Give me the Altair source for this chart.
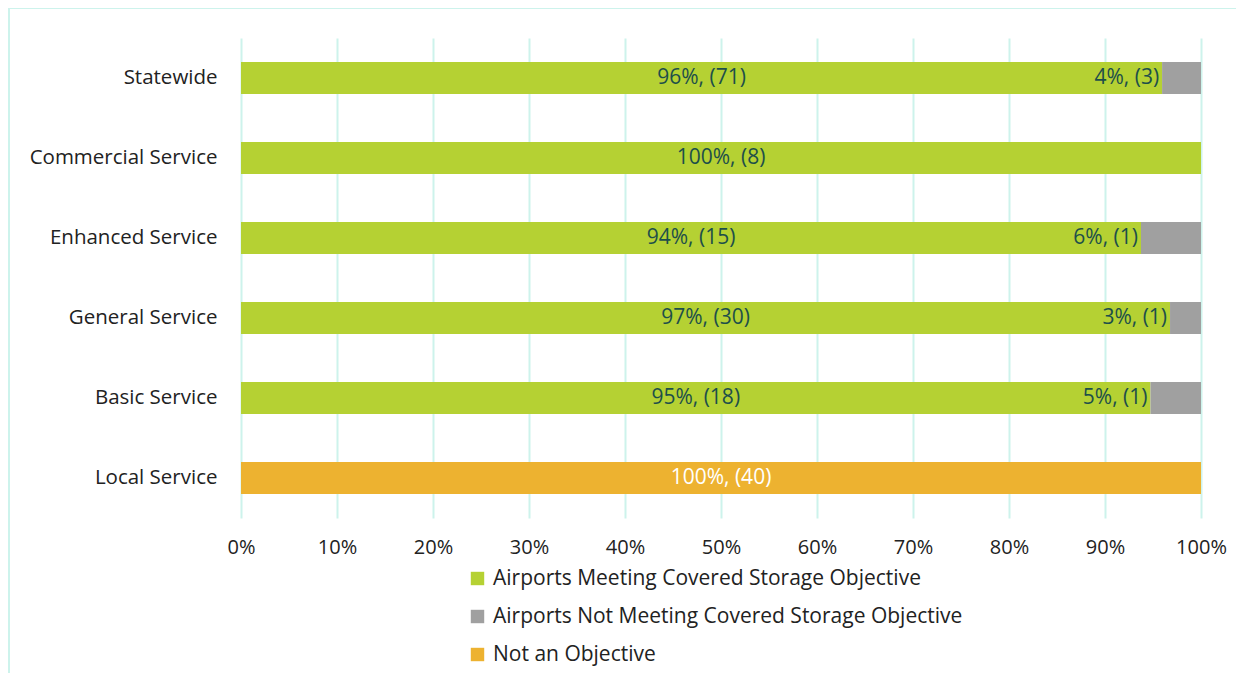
import altair as alt
import pandas as pd

categories = ["Statewide", "Commercial Service", "Enhanced Service", "General Service", "Basic Service", "Local Service"]
series = ["Airports Meeting Covered Storage Objective",
          "Airports Not Meeting Covered Storage Objective",
          "Not an Objective"]
meeting = [71, 8, 15, 30, 18, 0]
not_meeting = [3, 0, 1, 1, 1, 0]
not_objective = [0, 0, 0, 0, 0, 40]
colors = ["#B5D133", "#A0A0A0", "#EDB230"]
x_ticks = [0, 0.1, 0.2, 0.3, 0.4, 0.5, 0.6, 0.7, 0.8, 0.9, 1.0]

FONT = "Open Sans"
GRID = "#CDF3EC"
TXT = "#222222"
LAB = "#1D4F4A"

rows = []
for i, c in enumerate(categories):
    vals = [meeting[i], not_meeting[i], not_objective[i]]
    total = sum(vals)
    for j, s in enumerate(series):
        v = vals[j]
        rows.append({"category": c, "series": s, "order": j, "count": v,
                     "label": f"{round(100 * v / total)}%, ({v})" if v > 0 else ""})
df = pd.DataFrame(rows)

base = alt.Chart(df).transform_stack(
    stack="count", groupby=["category"], as_=["x0", "x1"], offset="normalize",
    sort=[alt.SortField("order", order="ascending")]
).transform_calculate(mid="(datum.x0 + datum.x1) / 2")

yenc = alt.Y("category:N", sort=categories, title=None,
             axis=alt.Axis(ticks=False, domain=False, grid=False, labelFontSize=20.5,
                           labelFont=FONT, labelColor=TXT, labelPadding=24, labelLimit=0))
xscale = alt.Scale(domain=[0, 1], nice=False, zero=True)

bars = base.mark_bar(size=32).encode(
    y=yenc,
    x=alt.X("x0:Q", scale=xscale, title=None,
            axis=alt.Axis(values=x_ticks, format=".0%", ticks=False, domain=False,
                          grid=True, gridColor=GRID, gridWidth=2, labelFlush=False,
                          labelFontSize=20, labelFont=FONT, labelColor=TXT,
                          labelPadding=19)),
    x2="x1:Q",
    color=alt.Color("series:N", sort=series,
                    scale=alt.Scale(domain=series, range=colors),
                    legend=alt.Legend(title=None, orient="none", legendX=226, legendY=530,
                                      direction="vertical", symbolType="square",
                                      symbolSize=180, symbolStrokeWidth=0,
                                      labelFontSize=21, labelFont=FONT, labelLimit=0,
                                      labelColor=TXT, rowPadding=16,
                                      labelOffset=5, padding=0)),
    order=alt.Order("order:Q"),
)

lab_meet = base.transform_filter("datum.order == 0 && datum.count > 0").mark_text(
    color=LAB, fontSize=21, font=FONT, baseline="middle"
).encode(y=alt.Y("category:N", sort=categories), x=alt.X("mid:Q", scale=xscale), text="label:N")

lab_not = base.transform_filter("datum.order == 1 && datum.count > 0").mark_text(
    color=LAB, fontSize=21, font=FONT, baseline="middle", align="right", dx=-3
).encode(y=alt.Y("category:N", sort=categories), x=alt.X("x0:Q", scale=xscale), text="label:N")

lab_obj = base.transform_filter("datum.order == 2 && datum.count > 0").mark_text(
    color="#FFFFFF", fontSize=21, font=FONT, baseline="middle"
).encode(y=alt.Y("category:N", sort=categories), x=alt.X("mid:Q", scale=xscale), text="label:N")

frame_src = alt.Chart(pd.DataFrame({"k": [0]}))
frame_top = frame_src.mark_rule(color=GRID, strokeWidth=2, clip=False).encode(
    x=alt.value(-232), x2=alt.value(1000), y=alt.value(-30))
frame_left = frame_src.mark_rule(color=GRID, strokeWidth=2, clip=False).encode(
    x=alt.value(-232), y=alt.value(-30), y2=alt.value(670))

chart = alt.layer(frame_top, frame_left, bars, lab_meet, lab_not, lab_obj).properties(
    width=960, height=480,
    autosize=alt.AutoSizeParams(type="none"),
    padding={"left": 233, "top": 30, "right": 35, "bottom": 155},
).configure_view(stroke=None)

chart.save("out.html", embed_options={"renderer": "svg", "actions": False})
